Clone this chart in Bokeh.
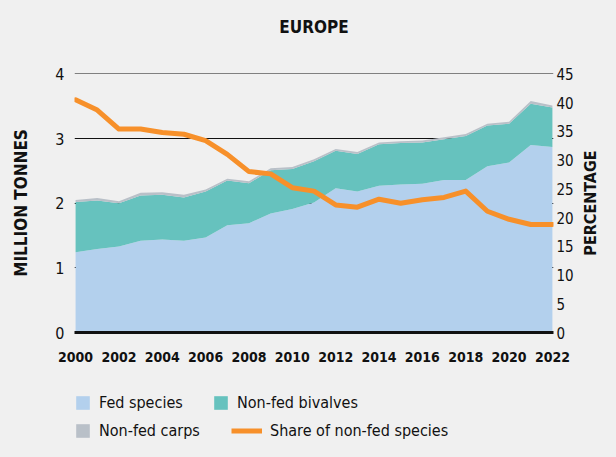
from bokeh.plotting import figure
from bokeh.layouts import column, row
from bokeh.models import (Range1d, LinearAxis, FixedTicker, Legend, LegendItem,
                          ColumnDataSource, Title)
from bokeh.embed import file_html
from bokeh.resources import INLINE

years = list(range(2000, 2023))
fed = [1.24, 1.29, 1.33, 1.42, 1.44, 1.42, 1.47, 1.66, 1.69, 1.84, 1.91, 2.01,
       2.23, 2.18, 2.27, 2.29, 2.30, 2.36, 2.36, 2.57, 2.63, 2.90, 2.87]
bivalves = [0.78, 0.75, 0.67, 0.70, 0.69, 0.67, 0.71, 0.69, 0.62, 0.67, 0.62, 0.64,
            0.58, 0.58, 0.64, 0.64, 0.64, 0.63, 0.68, 0.63, 0.60, 0.64, 0.61]
carps = [0.03, 0.04, 0.03, 0.04, 0.04, 0.04, 0.03, 0.03, 0.03, 0.03, 0.03, 0.03,
         0.03, 0.03, 0.03, 0.03, 0.03, 0.03, 0.03, 0.03, 0.03, 0.04, 0.03]
share = [40.5, 38.7, 35.4, 35.4, 34.8, 34.5, 33.4, 31.0, 28.0, 27.6, 25.2, 24.6,
         22.2, 21.8, 23.2, 22.5, 23.1, 23.5, 24.6, 21.1, 19.7, 18.8, 18.8]
left_ticks = [0, 1, 2, 3, 4]
right_ticks = [0, 5, 10, 15, 20, 25, 30, 35, 40, 45]
x_ticks = list(range(2000, 2023, 2))

FONT = "DejaVu Sans Condensed, Roboto, sans-serif"
BG = "#f0f0f0"
INK = "#111111"
C_FED = "#b3d0ed"
C_BIV = "#66c2be"
C_CARP = "#b9c0c8"
C_SHARE = "#f7902a"

src = ColumnDataSource(dict(year=years, fed=fed, bivalves=bivalves, carps=carps, share=share))

fig = figure(width=578, height=370, output_backend="svg", toolbar_location=None,
             x_range=Range1d(1999.95, 2022.05), y_range=Range1d(0, 4.006),
             background_fill_color=BG, border_fill_color=BG,
             min_border_left=74, min_border_right=25, min_border_top=73, min_border_bottom=38)
fig.outline_line_color = None
fig.extra_y_ranges = {"pct": Range1d(0, 45 * 4.006 / 4)}

fig.varea_stack(["fed", "bivalves", "carps"], x="year", source=src,
                color=[C_FED, C_BIV, C_CARP])
fig.line("year", "share", source=src, y_range_name="pct", line_color=C_SHARE,
         line_width=5, line_join="round", line_cap="round")

fig.title.text = "EUROPE"
fig.title.align = "center"
fig.title.text_font = FONT
fig.title.text_font_size = "17px"
fig.title.text_font_style = "bold"
fig.title.text_color = INK
fig.title.standoff = 10
# empty spacer between the title and the plotting area
fig.add_layout(Title(text=" ", text_font_size="10px", standoff=19), "above")

fig.xgrid.visible = False
fig.ygrid.ticker = FixedTicker(ticks=left_ticks)
fig.ygrid.grid_line_color = INK
fig.ygrid.grid_line_width = 1


def plain_axis(ax):
    ax.major_tick_line_color = None
    ax.minor_tick_line_color = None
    ax.major_tick_out = 0
    ax.major_tick_in = 0
    ax.minor_tick_out = 0
    ax.minor_tick_in = 0
    ax.major_label_text_font = FONT
    ax.major_label_text_color = INK


xa = fig.xaxis[0]
plain_axis(xa)
xa.ticker = FixedTicker(ticks=x_ticks)
xa.axis_line_color = INK
xa.axis_line_width = 3
xa.major_label_text_font_style = "bold"
xa.major_label_text_font_size = "14px"
xa.major_label_standoff = 19

ya = fig.yaxis[0]
plain_axis(ya)
ya.ticker = FixedTicker(ticks=left_ticks)
ya.axis_line_color = None
ya.major_label_text_font_size = "16px"
ya.major_label_standoff = 10
ya.axis_label = "MILLION TONNES"
ya.axis_label_text_font = FONT
ya.axis_label_text_font_style = "bold"
ya.axis_label_text_font_size = "17px"
ya.axis_label_text_color = INK
ya.axis_label_standoff = 21

ra = LinearAxis(y_range_name="pct", ticker=FixedTicker(ticks=right_ticks))
plain_axis(ra)
ra.axis_line_color = None
ra.major_label_text_font_size = "15px"
ra.major_label_standoff = 3
fig.add_layout(ra, "right")

# narrow strip carrying the right-hand axis title (reads bottom to top)
strip = figure(width=22, height=441, output_backend="svg", toolbar_location=None,
               title="PERCENTAGE", title_location="left",
               x_range=Range1d(0, 1), y_range=Range1d(0, 1),
               x_axis_location=None, y_axis_location=None,
               min_border_left=0, min_border_right=0, min_border_top=73, min_border_bottom=109,
               background_fill_color=BG, border_fill_color=BG)
strip.outline_line_color = None
strip.xgrid.visible = False
strip.ygrid.visible = False
strip.title.align = "center"
strip.title.text_font = FONT
strip.title.text_font_size = "16px"
strip.title.text_font_style = "bold"
strip.title.text_color = INK
strip.title.standoff = 0

# legend strip below the chart
leg = figure(width=578, height=71, output_backend="svg", toolbar_location=None,
             x_range=Range1d(2000, 2022), y_range=Range1d(0, 4),
             x_axis_location=None, y_axis_location=None,
             min_border_left=74, min_border_right=25, min_border_top=0, min_border_bottom=0,
             background_fill_color=BG, border_fill_color=BG)
leg.outline_line_color = None
leg.xgrid.visible = False
leg.ygrid.visible = False
l_areas = leg.varea_stack(["fed", "bivalves", "carps"], x="year", source=src,
                          color=[C_FED, C_BIV, C_CARP], visible=False)
l_line = leg.line("year", "share", source=src, line_color=C_SHARE, line_width=5,
                  visible=False)


def add_legend(label, renderer, loc, gw):
    lg = Legend(items=[LegendItem(label=label, renderers=[renderer])], location=loc,
                orientation="horizontal", padding=0, margin=0, spacing=0,
                border_line_color=None, background_fill_alpha=0,
                glyph_width=gw, glyph_height=17, label_standoff=8,
                label_text_font=FONT, label_text_font_size="16px",
                label_text_color=INK, label_height=17)
    leg.add_layout(lg, "center")


add_legend("Fed species", l_areas[0], (0, 29), 17)
add_legend("Non-fed bivalves", l_areas[1], (138, 29), 17)
add_legend("Non-fed carps", l_areas[2], (0, 1), 17)
add_legend("Share of non-fed species", l_line, (157, 1), 31)

inner = column(fig, leg, spacing=0, styles={"background-color": BG})
p = row(inner, strip, spacing=0,
        styles={"background-color": BG, "box-shadow": f"0 0 0 16px {BG}"})

open("out.html", "w").write(file_html(p, INLINE))
